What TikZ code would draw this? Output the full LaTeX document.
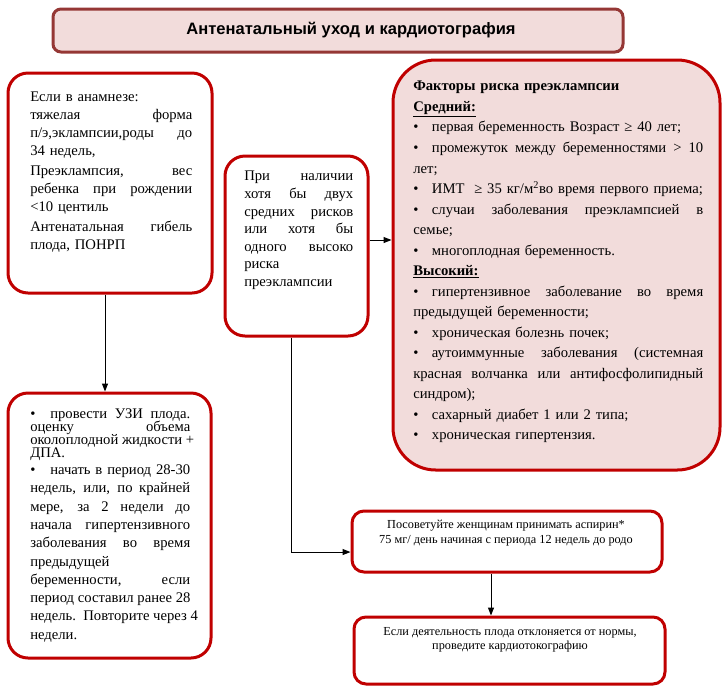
\documentclass[tikz,border=0pt]{standalone}
\usepackage{fontspec}
\setmainfont{Liberation Serif}
\newfontfamily\titlefont{Liberation Sans}
\usetikzlibrary{arrows.meta}
\definecolor{boxred}{HTML}{C00000}
\definecolor{pinkfill}{HTML}{F2DCDB}
\definecolor{titleborder}{HTML}{953735}
\newcommand\jl[1]{\leavevmode\hbox to \hsize{\spaceskip=0.25em plus 10em\relax #1}}
\newcommand\bul{\makebox[14pt][l]{•}}
\newcommand\bulb{\makebox[15pt][l]{•}}
\begin{document}
\begin{tikzpicture}[x=0.75pt,y=-0.75pt,
  redbox/.style={draw=boxred, line width=2.25pt, rounded corners=15pt, fill=white, inner sep=0pt},
  pinkbox/.style={redbox, fill=pinkfill, rounded corners=32pt},
  smallbox/.style={redbox, rounded corners=9pt},
  titlebox/.style={draw=titleborder, line width=2.25pt, fill=pinkfill, rounded corners=6pt, inner sep=0pt},
  txt/.style={inner sep=0pt, anchor=north west, align=left, font=\fontsize{11}{13.5}\selectfont},
  ctxt/.style={inner sep=0pt, anchor=north, align=center, font=\fontsize{9.2}{11}\selectfont},
  arr/.style={-{Triangle[length=6pt,width=4.5pt]}, line width=0.75pt, draw=black}]
\useasboundingbox (0,0) rectangle (726,694);

% boxes
\node[titlebox, minimum width=427.5pt, minimum height=32.25pt] (T) at (338,30.5)
  {\hspace*{19.5pt}\titlefont\bfseries\fontsize{12.4}{14}\selectfont Антенатальный уход и кардиотография};
\node[redbox, minimum width=153pt, minimum height=165pt] (B1) at (110,183) {};
\node[redbox, minimum width=152.25pt, minimum height=198.75pt] (B2) at (109.5,525.5) {};
\node[redbox, minimum width=107.25pt, minimum height=135pt] (B3) at (296.5,246) {};
\node[pinkbox, minimum width=245.25pt, minimum height=307.5pt] (R) at (556.5,265) {};
\node[smallbox, minimum width=232.5pt, minimum height=45.75pt] (B4) at (507,541.5) {};
\node[smallbox, minimum width=233.25pt, minimum height=50.25pt] (B5) at (509.5,650.5) {};

% texts
\node[txt, text width=121.5pt] (t1) at (30,92) {%
Если в анамнезе:\\
\jl{тяжелая форма}\\
\jl{п/э,эклампсии,роды до}\\
34 недель,\\[1.5pt]
\jl{Преэклампсия, вес}\\
\jl{ребенка при рождении}\\
<10 центиль\\[1.5pt]
\jl{Антенатальная гибель}\\
плода, ПОНРП};

\node[txt, text width=81.75pt, font=\fontsize{11}{13.2}\selectfont] (t3) at (244,171) {%
\jl{При наличии}\\
\jl{хотя бы двух}\\
\jl{средних рисков}\\
\jl{или хотя бы}\\
\jl{одного высоко}\\
риска\\
преэклампсии};

\node[txt, text width=120pt, font=\fontsize{11}{13.7}\selectfont] (t2) at (30,409) {%
\jl{\bulb провести УЗИ плода.}\\[-4pt]
\jl{оценку объема}\\[-4pt]
\jl{околоплодной жидкости +}\\[-4pt]
ДПА.\\[-1pt]
\jl{\bulb начать в период 28-30}\\
\jl{недель, или, по крайней}\\
\jl{мере, за 2 недели до}\\
\jl{начала гипертензивного}\\
\jl{заболевания во время}\\
предыдущей\\
\jl{беременности, если}\\
\jl{период составил ранее 28}\\
\jl{недель. Повторите через 4}\\
недели.};

\node[txt, text width=217.5pt, font=\fontsize{11}{15.4}\selectfont] (tr) at (413,81) {%
\textbf{Факторы риска преэклампсии}\\
\underline{\textbf{Средний:}}\\
\bul первая беременность Возраст ≥ 40 лет;\\
\jl{\bul промежуток между беременностями > 10}\\
лет;\\
\bul ИМТ\ \ ≥ 35 кг/м\textsuperscript{2}во время первого приема;\\
\jl{\bul случаи заболевания преэклампсией в}\\
семье;\\
\bul многоплодная беременность.\\
\underline{\textbf{Высокий:}}\\
\jl{\bul гипертензивное заболевание во время}\\
предыдущей беременности;\\
\bul хроническая болезнь почек;\\
\jl{\bul аутоиммунные заболевания (системная}\\
\jl{красная волчанка или антифосфолипидный}\\
синдром);\\
\bul сахарный диабет 1 или 2 типа;\\
\bul хроническая гипертензия.};

\node[ctxt] (t4) at (506,520) {Посоветуйте женщинам принимать аспирин*\\
75 мг/ день начиная с периода 12 недель до родо};
\node[ctxt, font=\fontsize{9.2}{10.5}\selectfont] (t5) at (510,627) {Если деятельность плода отклоняется от нормы,\\
проведите кардиотокографию};

% connectors
\draw[arr] ([xshift=-3.75pt]B1.south) -- ([xshift=-3.75pt]B1.south |- B2.north);
\draw[arr] ([yshift=4.5pt]B3.east) -- ([yshift=4.5pt]B3.east -| R.west);
\draw[arr] ([xshift=-4pt]B3.south) |- ([yshift=-7.9pt]B4.west);
\draw[arr] ([xshift=-12pt]B4.south) -- ([xshift=-12pt]B4.south |- B5.north);
\end{tikzpicture}
\end{document}
